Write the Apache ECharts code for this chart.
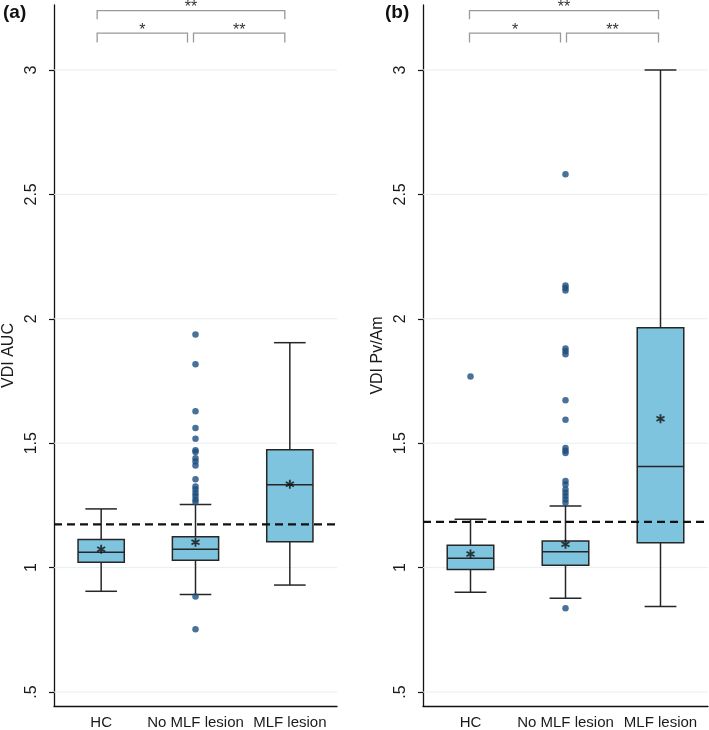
<!DOCTYPE html>
<html>
<head>
<meta charset="utf-8">
<script src="https://cdn.jsdelivr.net/npm/echarts@6/dist/echarts.min.js"></script>
<style>html,body{margin:0;padding:0;background:#fff;}#c{width:709px;height:730px;}</style>
</head>
<body>
<div id="c"></div>
<script>
// ---------- data ----------
const categories = ['HC', 'No MLF lesion', 'MLF lesion'];
const yTicks = [0.5, 1, 1.5, 2, 2.5, 3];

// panel (a) VDI AUC: [lower whisker, Q1, median, Q3, upper whisker]
const aucStats = [
  [0.905, 1.022, 1.062, 1.113, 1.236],
  [0.892, 1.030, 1.074, 1.124, 1.254],
  [0.930, 1.104, 1.333, 1.474, 1.904]
];
const aucMeans = [1.074, 1.102, 1.335];
const aucOutliersNoMLF = [1.937, 1.817, 1.628, 1.561, 1.518, 1.472, 1.465, 1.440, 1.427, 1.410,
  1.355, 1.326, 1.314, 1.300, 1.288, 1.274, 1.264, 0.884, 0.752];
const aucReference = 1.174;

// panel (b) VDI Pv/Am
const pvStats = [
  [0.901, 0.993, 1.038, 1.090, 1.194],
  [0.877, 1.010, 1.064, 1.107, 1.248],
  [0.844, 1.100, 1.406, 1.964, 3.000]
];
const pvMeans = [1.055, 1.094, 1.598];
const pvOutliersHC = [1.768];
const pvOutliersNoMLF = [2.581, 2.134, 2.124, 2.114, 1.881, 1.870, 1.858, 1.673, 1.594, 1.481,
  1.470, 1.461, 1.348, 1.334, 1.314, 1.301, 1.288, 1.274, 1.261, 0.837];
const pvReference = 1.184;

// significance comparisons: [from category, to category, label]
const comparisons = [
  [0, 1, '*'],
  [1, 2, '**'],
  [0, 2, '**']
];

// ---------- chart ----------
const FONT = '"Liberation Sans", Arial, sans-serif';
const BOX_FILL = '#7fc4de';
const EDGE = '#262626';
const DOT = '#1d4e7e';
const ASTER = 'path://M-1,-5 L1,-5 L1,5 L-1,5 Z M3.83,-3.366 L4.83,-1.634 L-3.83,3.366 L-4.83,1.634 Z M4.83,1.634 L3.83,3.366 L-4.83,-1.634 L-3.83,-3.366 Z';

function fmt(v) { return String(v).replace(/^0\./, '.'); }

const chart = echarts.init(document.getElementById('c'), null, {renderer: 'canvas'});

function boxRender(params, api) {
  const idx = api.value(0);
  const band = api.size([1, 0])[0];
  const bw = band * 0.49, cw = band * 0.335;
  const lo = api.coord([idx, api.value(1)]);
  const q1 = api.coord([idx, api.value(2)]);
  const md = api.coord([idx, api.value(3)]);
  const q3 = api.coord([idx, api.value(4)]);
  const hi = api.coord([idx, api.value(5)]);
  const x = lo[0];
  const ls = {stroke: EDGE, lineWidth: 1.5};
  return {
    type: 'group',
    children: [
      {type: 'line', shape: {x1: x, y1: hi[1], x2: x, y2: q3[1]}, style: ls},
      {type: 'line', shape: {x1: x, y1: q1[1], x2: x, y2: lo[1]}, style: ls},
      {type: 'line', shape: {x1: x - cw / 2, y1: hi[1], x2: x + cw / 2, y2: hi[1]}, style: ls},
      {type: 'line', shape: {x1: x - cw / 2, y1: lo[1], x2: x + cw / 2, y2: lo[1]}, style: ls},
      {type: 'rect', shape: {x: x - bw / 2, y: q3[1], width: bw, height: q1[1] - q3[1]},
        style: {fill: BOX_FILL, stroke: EDGE, lineWidth: 1.5}},
      {type: 'line', shape: {x1: x - bw / 2, y1: md[1], x2: x + bw / 2, y2: md[1]}, style: ls}
    ]
  };
}

function hlineRender(color, width, dash) {
  return function (params, api) {
    const cs = params.coordSys;
    const y = api.coord([0, api.value(0)])[1];
    return {type: 'line', shape: {x1: cs.x, y1: y, x2: cs.x + cs.width, y2: y},
      style: {stroke: color, lineWidth: width, lineDash: dash}};
  };
}

function bracketRender(offsets) {
  return function (params, api) {
    const i1 = api.value(0), i2 = api.value(1), level = api.value(2);
    const yTopV = level ? 3.238 : 3.148;
    const yDropV = level ? 3.204 : 3.110;
    const a = api.coord([i1, yTopV]);
    const b = api.coord([i2, yTopV]);
    const yb = api.coord([i1, yDropV])[1];
    let x1, x2;
    if (level) { x1 = a[0] + offsets[0]; x2 = b[0] + offsets[3]; }
    else if (i1 === 0) { x1 = a[0] + offsets[0]; x2 = b[0] + offsets[1]; }
    else { x1 = a[0] + offsets[2]; x2 = b[0] + offsets[3]; }
    const yt = a[1];
    return {
      type: 'group',
      children: [
        {type: 'polyline', shape: {points: [[x1, yb], [x1, yt], [x2, yt], [x2, yb]]},
          style: {stroke: '#9a9a9a', lineWidth: 1.3, fill: null}},
        {type: 'text', x: (x1 + x2) / 2, y: yt - 3,
          style: {text: comparisons[params.dataIndex][2], fontSize: 16, fontFamily: FONT,
            fill: '#333', align: 'center', verticalAlign: 'middle'}}
      ]
    };
  };
}

function panelSeries(gi, stats, means, outliers, ref, offsets) {
  return [
    {type: 'custom', xAxisIndex: gi, yAxisIndex: gi, z: 1, silent: true,
      renderItem: hlineRender('#e6eef2', 1, null), data: yTicks.map(v => [v]), encode: {y: 0}},
    {type: 'custom', xAxisIndex: gi, yAxisIndex: gi, z: 3, silent: true,
      renderItem: boxRender, data: stats.map((s, i) => [i].concat(s)), encode: {x: 0, y: [1, 2, 3, 4, 5]}},
    {type: 'scatter', xAxisIndex: gi, yAxisIndex: gi, z: 4, silent: true,
      symbol: 'circle', symbolSize: 6.5, itemStyle: {color: DOT},
      data: outliers},
    {type: 'custom', xAxisIndex: gi, yAxisIndex: gi, z: 5, silent: true,
      renderItem: hlineRender('#111', 2.3, [8, 5]), data: [[ref]], encode: {y: 0}},
    {type: 'scatter', xAxisIndex: gi, yAxisIndex: gi, z: 6, silent: true,
      symbol: ASTER, symbolSize: 9, itemStyle: {color: '#111'},
      data: means.map((m, i) => [i, m])},
    {type: 'custom', xAxisIndex: gi, yAxisIndex: gi, z: 6, silent: true, clip: false,
      renderItem: bracketRender(offsets),
      data: comparisons.map(c => [c[0], c[1], c[0] === 0 && c[1] === 2 ? 1 : 0]), encode: {x: 0}}
  ];
}

function yAxisDef(gi, name) {
  return {
    type: 'value', gridIndex: gi, min: 0.444, max: 3.261,
    name: name, nameLocation: 'middle', nameGap: 37, nameRotate: 90,
    nameTextStyle: {fontSize: 16, fontFamily: FONT, color: '#1a1a1a'},
    axisLine: {show: true, lineStyle: {color: '#111', width: 1.3}},
    axisTick: {show: true, length: 5, customValues: yTicks, lineStyle: {color: '#111', width: 1.2}},
    axisLabel: {show: true, rotate: 90, margin: 14, fontSize: 16, fontFamily: FONT, color: '#1a1a1a',
      customValues: yTicks, formatter: fmt},
    splitLine: {show: false}
  };
}

function xAxisDef(gi) {
  return {
    type: 'category', gridIndex: gi, data: categories, boundaryGap: true,
    axisLine: {show: true, lineStyle: {color: '#111', width: 1.3}},
    axisTick: {show: false},
    axisLabel: {fontSize: 15, fontFamily: FONT, color: '#1a1a1a', margin: 9, interval: 0},
    splitLine: {show: false}
  };
}

const option = {
  animation: false,
  backgroundColor: '#fff',
  title: [
    {text: '(a)', left: 3, top: 3, padding: 0, textStyle: {fontSize: 19, fontWeight: 'bold', fontFamily: FONT, color: '#111'}},
    {text: '(b)', left: 385, top: 3, padding: 0, textStyle: {fontSize: 19, fontWeight: 'bold', fontFamily: FONT, color: '#111'}}
  ],
  grid: [
    {left: 52, top: 5, width: 285, height: 704},
    {left: 423, top: 5, width: 285, height: 704}
  ],
  xAxis: [xAxisDef(0), xAxisDef(1)],
  yAxis: [yAxisDef(0, 'VDI AUC'), yAxisDef(1, 'VDI Pv/Am')],
  series: [].concat(
    panelSeries(0, aucStats, aucMeans, aucOutliersNoMLF.map(v => [1, v]), aucReference, [-4, -8, -2, -5]),
    panelSeries(1, pvStats, pvMeans,
      pvOutliersHC.map(v => [0, v]).concat(pvOutliersNoMLF.map(v => [1, v])), pvReference, [-1, -5, 1, -2])
  )
};
chart.setOption(option);
</script>
</body>
</html>
